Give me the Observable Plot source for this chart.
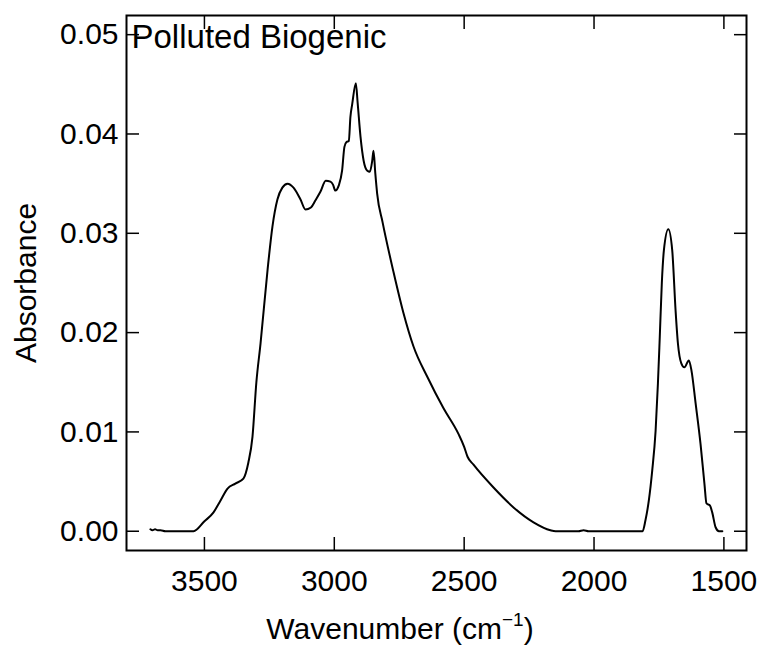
<!DOCTYPE html>
<html>
<head>
<meta charset="utf-8">
<script src="https://cdn.jsdelivr.net/npm/d3@7"></script>
<script src="https://cdn.jsdelivr.net/npm/@observablehq/plot@0.6"></script>
<style>
  html, body { margin: 0; padding: 0; background: #fff; }
  svg { font-family: "Liberation Sans", Arial, Helvetica, sans-serif; }
</style>
</head>
<body>
<div id="chart"></div>
<script>
// Wavenumber (cm^-1) and absorbance
const wavenumber = [
  3708, 3700, 3690, 3680, 3669, 3650, 3631, 3542, 3500, 3465, 3440, 3411, 3381, 3350, 3331, 3315,
  3300, 3284, 3257, 3238, 3219, 3200, 3180, 3157, 3130, 3111, 3090, 3073, 3053, 3033, 3015, 3005,
  2996, 2983, 2970, 2961, 2953, 2944, 2938, 2931, 2917, 2910, 2899, 2887, 2873, 2863, 2854, 2849,
  2842, 2835, 2814, 2772, 2734, 2695, 2641, 2580, 2522, 2500, 2487, 2464, 2387, 2310, 2233, 2168,
  2148, 2060, 2040, 2021, 1813, 1802, 1789, 1776, 1763, 1754, 1747, 1739, 1731, 1714, 1699, 1686,
  1677, 1664, 1652, 1635, 1625, 1609, 1590, 1575, 1567, 1554, 1545, 1532, 1519, 1506
];
const absorbance = [
  0.0002, 0.0001, 0.0002, 0.0001, 0.0001, 0.0000, 0.0000, 0.0000, 0.0010, 0.0019, 0.0030, 0.0043, 0.0048, 0.0053, 0.0069, 0.0095,
  0.0150, 0.0189, 0.0263, 0.0307, 0.0334, 0.0346, 0.0350, 0.0346, 0.0334, 0.0324, 0.0326, 0.0333, 0.0342, 0.0353, 0.0352, 0.0349,
  0.0343, 0.0348, 0.0363, 0.0387, 0.0392, 0.0393, 0.0417, 0.0430, 0.0451, 0.0431, 0.0397, 0.0373, 0.0363, 0.0362, 0.0373, 0.0383,
  0.0360, 0.0340, 0.0311, 0.0261, 0.0220, 0.0186, 0.0155, 0.0124, 0.0098, 0.0085, 0.0075, 0.0067, 0.0044, 0.0024, 0.0009, 0.0001,
  0.0000, 0.0000, 0.0001, 0.0000, 0.0000, 0.0011, 0.0031, 0.0061, 0.0101, 0.0149, 0.0195, 0.0250, 0.0283, 0.0304, 0.0283, 0.0222,
  0.0189, 0.0169, 0.0165, 0.0172, 0.0162, 0.0129, 0.0088, 0.0048, 0.0028, 0.0026, 0.0019, 0.0004, 0.0000, 0.0000
];
const xTicks = [3500, 3000, 2500, 2000, 1500];
const yTicks = [0, 0.01, 0.02, 0.03, 0.04, 0.05];
const title = "Polluted Biogenic";
const yLabel = "Absorbance";

// ascending wavenumber order for the monotone curve
const spectrum = wavenumber.map((w, i) => ({w, a: absorbance[i]})).sort((p, q) => p.w - q.w);

const fs = 30;
const chart = Plot.plot({
  width: 760,
  height: 652,
  marginLeft: 126,
  marginRight: 14,
  marginTop: 15,
  marginBottom: 102,
  style: {fontSize: fs + "px", fontFamily: '"Liberation Sans", Arial, Helvetica, sans-serif', background: "#fff", color: "#000"},
  x: {domain: [3800, 1413], ticks: xTicks},
  y: {domain: [-0.00194, 0.05193], ticks: yTicks},
  marks: [
    Plot.axisX({anchor: "bottom", ticks: xTicks, tickSize: -13, tickPadding: 32, strokeWidth: 1.5, tickFormat: d => String(d), label: null, fontSize: fs}),
    Plot.axisX({anchor: "top", ticks: xTicks, tickSize: -13, strokeWidth: 1.5, tickFormat: () => "", label: null}),
    Plot.axisY({anchor: "left", ticks: yTicks, tickSize: -13, tickPadding: 21, strokeWidth: 1.5, tickFormat: d3.format(".2f"), label: null, fontSize: fs}),
    Plot.axisY({anchor: "right", ticks: yTicks, tickSize: -13, strokeWidth: 1.5, tickFormat: () => "", label: null}),
    Plot.line(spectrum, {x: "w", y: "a", stroke: "#000", strokeWidth: 2, curve: "monotone-x"}),
    Plot.frame({stroke: "#000", strokeWidth: 2}),
    Plot.text([title], {text: d => d, frameAnchor: "top-left", textAnchor: "start", lineAnchor: "bottom", dx: 5, dy: 32, fontSize: 33, fill: "#000"}),
    Plot.text([yLabel], {text: d => d, frameAnchor: "left", rotate: -90, textAnchor: "middle", lineAnchor: "middle", dx: -100, fontSize: fs, fill: "#000"})
  ]
});

document.getElementById("chart").appendChild(chart);

// x-axis title with superscript
const svg = d3.select(chart);
const t = svg.append("text")
  .attr("x", 400)
  .attr("y", 639)
  .attr("text-anchor", "middle")
  .attr("font-size", fs)
  .attr("fill", "#000");
t.append("tspan").text("Wavenumber (cm");
t.append("tspan").attr("dy", -13).attr("font-size", 19).text("\u22121");
t.append("tspan").attr("dy", 13).text(")");
</script>
</body>
</html>
